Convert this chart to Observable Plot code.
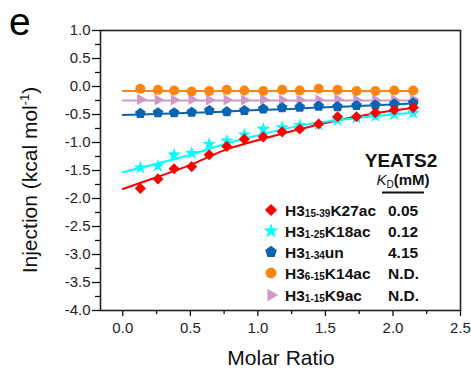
<!DOCTYPE html>
<html>
<head>
<meta charset="utf-8">
<script src="https://cdn.jsdelivr.net/npm/d3@7"></script>
<script src="https://cdn.jsdelivr.net/npm/@observablehq/plot@0.6"></script>
<style>
  html, body { margin: 0; padding: 0; background: #fff; }
  #chart { position: relative; width: 471px; height: 369px; }
  svg { font-family: "Liberation Sans", Arial, sans-serif; }
</style>
</head>
<body>
<div id="chart"></div>
<script>
// ---- data ----
const molarRatio = [0.13, 0.26, 0.38, 0.51, 0.64, 0.77, 0.90, 1.04, 1.18, 1.31, 1.45, 1.59, 1.73, 1.87, 2.01, 2.15];
const k27ac = [-1.82, -1.65, -1.47, -1.43, -1.22, -1.07, -0.94, -0.90, -0.81, -0.76, -0.67, -0.54, -0.54, -0.47, -0.42, -0.38];
const k18ac = [-1.45, -1.42, -1.22, -1.19, -1.03, -0.97, -0.86, -0.76, -0.73, -0.69, -0.68, -0.60, -0.56, -0.53, -0.50, -0.47];
const un34  = [-0.48, -0.47, -0.47, -0.46, -0.43, -0.45, -0.43, -0.40, -0.38, -0.37, -0.35, -0.36, -0.34, -0.33, -0.31, -0.29];
const k14ac = [-0.04, -0.06, -0.07, -0.09, -0.08, -0.06, -0.07, -0.08, -0.06, -0.07, -0.04, -0.06, -0.08, -0.08, -0.07, -0.07];
const k9ac  = [-0.23, -0.24, -0.24, -0.23, -0.24, -0.24, -0.24, -0.23, -0.24, -0.24, -0.24, -0.23, -0.24, -0.24, -0.24, -0.23];

// fitted curves
const fitX     = [0, 0.25, 0.5, 0.75, 1.0, 1.25, 1.5, 1.75, 2.0, 2.18];
const fitK27ac = [-1.83, -1.62, -1.40, -1.14, -0.96, -0.80, -0.65, -0.53, -0.43, -0.37];
const fitK18ac = [-1.53, -1.38, -1.22, -1.03, -0.87, -0.73, -0.63, -0.56, -0.50, -0.46];
const fitUn34  = [-0.51, -0.49, -0.47, -0.45, -0.42, -0.40, -0.37, -0.35, -0.32, -0.30];
const fitK14ac = [-0.08, -0.08, -0.08, -0.08, -0.08, -0.08, -0.08, -0.08, -0.08, -0.08];
const fitK9ac  = [-0.25, -0.25, -0.25, -0.25, -0.25, -0.25, -0.25, -0.25, -0.25, -0.25];

const peptides = ["H3|15-39|K27ac", "H3|1-25|K18ac", "H3|1-34|un", "H3|6-15|K14ac", "H3|1-15|K9ac"];
const kdValues = ["0.05", "0.12", "4.15", "N.D.", "N.D."];

const xTicks = [0.0, 0.5, 1.0, 1.5, 2.0, 2.5];
const xMinor = [0.25, 0.75, 1.25, 1.75, 2.25];
const yTicks = [1.0, 0.5, 0.0, -0.5, -1.0, -1.5, -2.0, -2.5, -3.0, -3.5, -4.0];
const yMinor = [0.75, 0.25, -0.25, -0.75, -1.25, -1.75, -2.25, -2.75, -3.25, -3.75];

// ---- styles ----
const colors = ["#ff0000", "#00ffff", "#0a64b4", "#ff8412", "#cf98c9"];
const pentagon = {
  draw(ctx, size) {
    const R = Math.sqrt(size / Math.PI) * 1.12;
    for (let k = 0; k < 5; k++) {
      const a = -Math.PI / 2 + k * 2 * Math.PI / 5;
      const px = R * Math.cos(a), py = R * Math.sin(a);
      k ? ctx.lineTo(px, py) : ctx.moveTo(px, py);
    }
    ctx.closePath();
  }
};
const triRight = {
  draw(ctx, size) {
    const R = Math.sqrt(size / Math.PI) * 1.3;
    ctx.moveTo(R, 0);
    ctx.lineTo(-R / 2, R * 0.866);
    ctx.lineTo(-R / 2, -R * 0.866);
    ctx.closePath();
  }
};
const symbols = [d3.symbolDiamond2, d3.symbolStar, pentagon, d3.symbolCircle, triRight];
const radii = [5, 4.3, 5, 5, 5];

const pointSeries = [k27ac, k18ac, un34, k14ac, k9ac];
const fitSeries = [fitK27ac, fitK18ac, fitUn34, fitK14ac, fitK9ac];

const marks = [];
fitSeries.forEach((ys, i) => {
  marks.push(Plot.line(fitX.map((x, j) => ({x, y: ys[j]})), {
    x: "x", y: "y", stroke: colors[i], strokeWidth: 2, curve: "monotone-x"
  }));
});
[4, 3, 2, 1, 0].forEach(i => {
  marks.push(Plot.dot(molarRatio.map((x, j) => ({x, y: pointSeries[i][j]})), {
    x: "x", y: "y", symbol: symbols[i], r: radii[i], fill: colors[i], stroke: "none"
  }));
});

const fmt = d => d.toFixed(1);
marks.push(
  Plot.axisX(xTicks, {tickSize: 6, tickPadding: 6, tickFormat: fmt, fontSize: 15, label: null, strokeWidth: 1.3, stroke: "#111", fill: "#222"}),
  Plot.axisX(xMinor, {tickSize: 4, tickFormat: () => "", label: null, strokeWidth: 1.3, stroke: "#111"}),
  Plot.axisY(yTicks, {tickSize: 8, tickPadding: 2, tickFormat: fmt, fontSize: 15, label: null, strokeWidth: 1.3, stroke: "#111", fill: "#222"}),
  Plot.axisY(yMinor, {tickSize: 5, tickFormat: () => "", label: null, strokeWidth: 1.3, stroke: "#111"}),
  Plot.frame({stroke: "#222", strokeWidth: 1.6})
);

const chart = Plot.plot({
  width: 471,
  height: 369,
  marginLeft: 100,
  marginRight: 11,
  marginTop: 30,
  marginBottom: 59,
  x: {domain: [-0.165, 2.5]},
  y: {domain: [-4, 1]},
  style: {fontFamily: "Liberation Sans, Arial, sans-serif", color: "#222", background: "#fff"},
  marks
});
document.getElementById("chart").appendChild(chart);

// ---- annotations ----
const svg = d3.select(chart);
const font = "Liberation Sans, Arial, sans-serif";

svg.append("text").attr("x", 9).attr("y", 35).attr("font-size", 39).attr("text-anchor", "start")
  .attr("font-family", font).attr("fill", "#000").text("e");

svg.append("text").attr("x", 281).attr("y", 365).attr("text-anchor", "middle")
  .attr("font-size", 21).attr("font-family", font).attr("fill", "#111").text("Molar Ratio");

const yl = svg.append("text").attr("transform", "translate(37,180) rotate(-90)")
  .attr("text-anchor", "middle").attr("font-size", 21).attr("font-family", font).attr("fill", "#111");
yl.append("tspan").text("Injection (kcal mol");
yl.append("tspan").attr("font-size", 13).attr("dy", -8).text("-1");
yl.append("tspan").attr("dy", 8).text(")");

// legend
const lg = svg.append("g").attr("font-family", font).attr("font-weight", "bold").attr("fill", "#111");
lg.append("text").attr("x", 401).attr("y", 167).attr("text-anchor", "middle").attr("font-size", 19).text("YEATS2");
const kd = lg.append("text").attr("x", 403).attr("y", 185).attr("text-anchor", "middle").attr("font-size", 15);
kd.append("tspan").attr("font-style", "italic").attr("font-weight", "normal").text("K");
kd.append("tspan").attr("font-size", 10).attr("dy", 3).attr("font-weight", "normal").text("D");
kd.append("tspan").attr("dy", -3).text("(mM)");
lg.append("line").attr("x1", 382).attr("x2", 424).attr("y1", 192.5).attr("y2", 192.5)
  .attr("stroke", "#111").attr("stroke-width", 2);

const rowY = [210, 231, 252, 273, 295];
peptides.forEach((p, i) => {
  const [a, sub, b] = p.split("|");
  const y = rowY[i];
  lg.append("path").attr("transform", `translate(271,${y})`)
    .attr("d", d3.symbol().type(symbols[i]).size(radii[i] * radii[i] * Math.PI * 1.2)())
    .attr("fill", colors[i]);
  const t = lg.append("text").attr("x", 285).attr("y", y + 5.5).attr("font-size", 15.5).attr("text-anchor", "start");
  t.append("tspan").text(a);
  t.append("tspan").attr("font-size", 10).attr("dy", 1.5).text(sub);
  t.append("tspan").attr("dy", -1.5).text(b);
  lg.append("text").attr("x", 388).attr("y", y + 5.5).attr("font-size", 15.5).attr("text-anchor", "start").text(kdValues[i]);
});
</script>
</body>
</html>
